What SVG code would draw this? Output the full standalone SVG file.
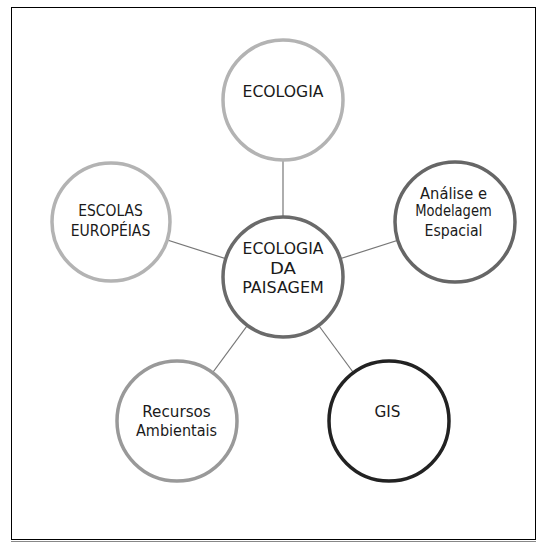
<svg xmlns="http://www.w3.org/2000/svg" width="545" height="552" viewBox="0 0 545 552">
<style>
text{font-family:"DejaVu Sans","Liberation Sans",sans-serif;font-size:16px;fill:#1a1a1a;text-anchor:middle}
.node circle{fill:#fff;stroke-width:3.5}
.conn line{stroke:#777;stroke-width:1.2}
</style>
<rect x="0" y="0" width="545" height="552" fill="#fff"/>
<rect x="11.5" y="7.5" width="524" height="532" fill="none" stroke="#000" stroke-width="1"/>
<line x1="11" y1="541.5" x2="536" y2="541.5" stroke="#888" stroke-width="1"/>
<g id="connectors" class="conn">
<line x1="283" y1="277" x2="283" y2="100"/>
<line x1="283" y1="277" x2="111" y2="222"/>
<line x1="283" y1="277" x2="455" y2="222"/>
<line x1="283" y1="277" x2="177" y2="421"/>
<line x1="283" y1="277" x2="389" y2="421"/>
</g>
<g id="ecologia" class="node"><circle cx="283" cy="100" r="60" stroke="#b3b3b3"/><text x="283" y="96.5" textLength="81" lengthAdjust="spacingAndGlyphs">ECOLOGIA</text></g>
<g id="escolas" class="node"><circle cx="111" cy="222" r="59" stroke="#b3b3b3"/><text x="110.5" y="215.5" textLength="64.5" lengthAdjust="spacingAndGlyphs">ESCOLAS</text><text x="110.5" y="235.5" textLength="79.5" lengthAdjust="spacingAndGlyphs">EUROPÉIAS</text></g>
<g id="analise" class="node"><circle cx="455" cy="222" r="60" stroke="#666"/><text x="453.5" y="199" textLength="67" lengthAdjust="spacingAndGlyphs">Análise e</text><text x="453.5" y="215.5" style="font-size:15px" textLength="76.5" lengthAdjust="spacingAndGlyphs">Modelagem</text><text x="453.5" y="236" textLength="58" lengthAdjust="spacingAndGlyphs">Espacial</text></g>
<g id="recursos" class="node"><circle cx="177" cy="421" r="60" stroke="#999"/><text x="176.5" y="417" textLength="68.5" lengthAdjust="spacingAndGlyphs">Recursos</text><text x="176.5" y="436" textLength="81" lengthAdjust="spacingAndGlyphs">Ambientais</text></g>
<g id="gis" class="node"><circle cx="389" cy="421" r="60" stroke="#222"/><text x="387.5" y="417" textLength="26" lengthAdjust="spacingAndGlyphs">GIS</text></g>
<g id="centro" class="node"><circle cx="283" cy="277" r="60" stroke="#6a6a6a"/><text x="283" y="253.5" textLength="81" lengthAdjust="spacingAndGlyphs">ECOLOGIA</text><text x="283" y="273.5" textLength="26" lengthAdjust="spacingAndGlyphs">DA</text><text x="283" y="293" textLength="81.5" lengthAdjust="spacingAndGlyphs">PAISAGEM</text></g>
</svg>
